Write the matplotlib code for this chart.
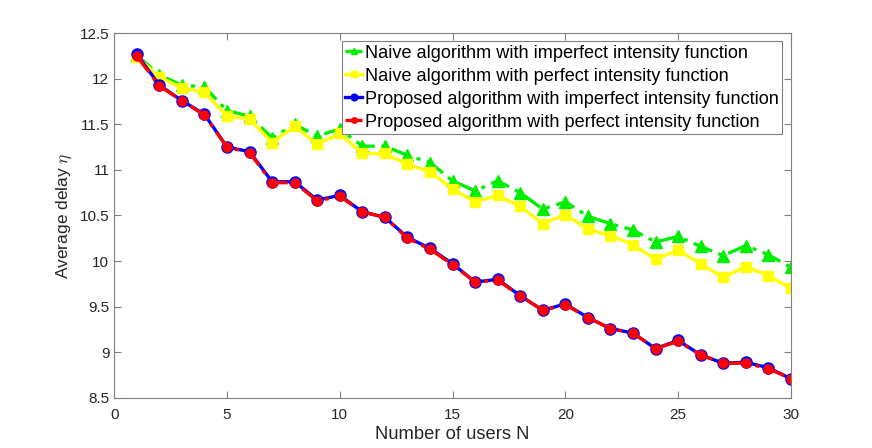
import numpy as np
import matplotlib
matplotlib.use("Agg")
import matplotlib.pyplot as plt

plt.rcParams['font.family'] = ['Liberation Sans', 'DejaVu Sans']
plt.rcParams['mathtext.fontset'] = 'cm'

users = np.arange(1, 31)

naive_imperfect = [12.26, 12.04, 11.93, 11.91, 11.65, 11.59, 11.35, 11.50, 11.37, 11.45,
                   11.26, 11.26, 11.16, 11.08, 10.88, 10.77, 10.88, 10.75, 10.57, 10.65,
                   10.49, 10.41, 10.34, 10.21, 10.27, 10.16, 10.06, 10.17, 10.07, 9.93]
naive_perfect = [12.24, 12.02, 11.90, 11.85, 11.59, 11.56, 11.30, 11.48, 11.28, 11.40,
                 11.18, 11.18, 11.06, 10.98, 10.79, 10.65, 10.72, 10.60, 10.41, 10.51,
                 10.35, 10.28, 10.18, 10.02, 10.12, 9.97, 9.82, 9.94, 9.84, 9.70]
proposed_imperfect = [12.27, 11.93, 11.76, 11.61, 11.25, 11.20, 10.87, 10.87, 10.67, 10.72,
                      10.54, 10.48, 10.26, 10.14, 9.97, 9.77, 9.80, 9.62, 9.46, 9.53,
                      9.38, 9.26, 9.21, 9.04, 9.13, 8.97, 8.88, 8.89, 8.83, 8.71]
proposed_perfect = [12.25, 11.92, 11.76, 11.60, 11.25, 11.19, 10.86, 10.86, 10.66, 10.71,
                    10.54, 10.48, 10.25, 10.13, 9.96, 9.77, 9.79, 9.62, 9.46, 9.52,
                    9.38, 9.26, 9.21, 9.04, 9.12, 8.97, 8.88, 8.88, 8.82, 8.71]

labels = ["Naive algorithm with imperfect intensity function",
          "Naive algorithm with perfect intensity function",
          "Proposed algorithm with imperfect intensity function",
          "Proposed algorithm with perfect intensity function"]

fig = plt.figure(figsize=(8.72, 4.48), dpi=100)
ax = fig.add_axes([0.131, 0.112, 0.776, 0.814])

ax.plot(users, naive_imperfect, '-.', color='#00ee00', lw=2.4, marker='^', ms=8,
        dashes=(6, 2, 1.2, 2), label=labels[0])
ax.plot(users, naive_perfect, '-', color='#ffff00', lw=2.4, marker='s', ms=7, label=labels[1])
ax.plot(users, proposed_imperfect, '-', color='#0000ff', lw=2.4, marker='o', ms=8, label=labels[2])
ax.plot(users, proposed_perfect, '-.', color='#ff0000', lw=2.4, marker='o', ms=6.5,
        dashes=(6, 2, 1.2, 2), label=labels[3])

ax.set_xlim(0, 30)
ax.set_ylim(8.5, 12.5)
ax.set_xticks(np.arange(0, 31, 5))
ax.set_yticks(np.arange(8.5, 12.51, 0.5))
ax.set_yticklabels(['8.5', '9', '9.5', '10', '10.5', '11', '11.5', '12', '12.5'])

for s in ax.spines.values():
    s.set_color('#808080')
ax.tick_params(direction='in', top=True, right=True, colors='#808080',
               labelcolor='#262626', labelsize=11, length=5)
ax.tick_params(axis='x', pad=7.5)

ax.set_xlabel("Number of users N", fontsize=13.2, color='#262626', labelpad=3)
ax.set_ylabel(r"Average delay $\eta$", fontsize=12.5, color='#262626')

leg = ax.legend(loc='upper right', bbox_to_anchor=(0.987, 0.978), fontsize=13.1,
                handlelength=0.9, handletextpad=0.15, borderpad=0.2, labelspacing=0.33,
                fancybox=False, framealpha=1, borderaxespad=0.0, markerscale=0.6)
leg.get_frame().set_edgecolor('#808080')
leg.get_frame().set_linewidth(0.8)

fig.savefig("out.png", dpi=100)
